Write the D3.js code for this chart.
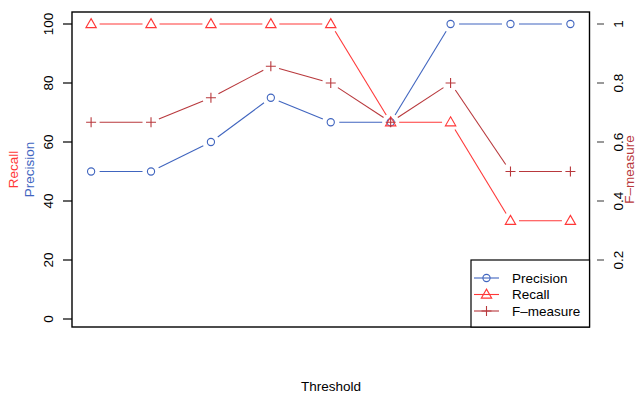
<!DOCTYPE html>
<html>
<head>
<meta charset="utf-8">
<script src="https://cdn.jsdelivr.net/npm/d3@7"></script>
<style>
  html, body { margin: 0; padding: 0; background: #fff; }
  svg { display: block; font-family: "Liberation Sans", Arial, Helvetica, sans-serif; }
</style>
</head>
<body>
<svg id="chart" width="637" height="393"></svg>
<script>
// Threshold steps (x positions 1..9)
const thresholds = [1, 2, 3, 4, 5, 6, 7, 8, 9];
// Precision and recall in percent
const precision = [50, 50, 60, 75, 66.7, 66.7, 100, 100, 100];
const recall = [100, 100, 100, 100, 100, 66.7, 66.7, 33.3, 33.3];
// F-measure on a 0..1 scale (right axis)
const fmeasure = [0.667, 0.667, 0.75, 0.857, 0.8, 0.667, 0.8, 0.5, 0.5];
const leftTicks = [0, 20, 40, 60, 80, 100];
const rightTicks = [0.2, 0.4, 0.6, 0.8, 1];

const colPrec = "#4065bf";
const colRec = "#ff3838";
const colF = "#b8383c";

const svg = d3.select("#chart");
const box = { left: 72, right: 589.5, top: 12, bottom: 327 };

const x = d3.scaleLinear().domain([1, 9]).range([91.1, 570.4]);
const yL = d3.scaleLinear().domain([0, 100]).range([319, 24]);
const yR = d3.scaleLinear().domain([0, 1]).range([319, 24]);

// plot frame
svg.append("rect")
  .attr("x", box.left).attr("y", box.top)
  .attr("width", box.right - box.left).attr("height", box.bottom - box.top)
  .attr("fill", "none").attr("stroke", "#000").attr("stroke-width", 1.4);

// left axis ticks and rotated labels
const gL = svg.append("g");
gL.selectAll("line").data(leftTicks).join("line")
  .attr("x1", 63).attr("x2", box.left)
  .attr("y1", d => yL(d)).attr("y2", d => yL(d))
  .attr("stroke", "#000").attr("stroke-width", 1.2);
gL.selectAll("text").data(leftTicks).join("text")
  .attr("transform", d => `translate(53,${yL(d)}) rotate(-90)`)
  .attr("text-anchor", "middle")
  .attr("font-size", 13.5)
  .attr("fill", "#000")
  .text(d => d);

// right axis ticks (no axis line) and rotated labels
const gR = svg.append("g");
gR.selectAll("line").data(rightTicks).join("line")
  .attr("x1", 597).attr("x2", 604)
  .attr("y1", d => yR(d)).attr("y2", d => yR(d))
  .attr("stroke", "#555").attr("stroke-width", 1.2);
gR.selectAll("text").data(rightTicks).join("text")
  .attr("transform", d => `translate(623,${yR(d)}) rotate(-90)`)
  .attr("text-anchor", "middle")
  .attr("font-size", 13.5)
  .attr("fill", "#000")
  .text(d => d3.format("~g")(d));

// axis titles
svg.append("text")
  .attr("transform", "translate(18,169.5) rotate(-90)")
  .attr("text-anchor", "middle").attr("font-size", 13.5).attr("fill", colRec)
  .text("Recall");
svg.append("text")
  .attr("transform", "translate(34,169.5) rotate(-90)")
  .attr("text-anchor", "middle").attr("font-size", 13.5).attr("fill", colPrec)
  .text("Precision");
svg.append("text")
  .attr("transform", "translate(634,169.5) rotate(-90)")
  .attr("text-anchor", "middle").attr("font-size", 13.5).attr("fill", colF)
  .text("F\u2013measure");
svg.append("text")
  .attr("x", 331).attr("y", 391)
  .attr("text-anchor", "middle").attr("font-size", 13.5).attr("fill", "#000")
  .text("Threshold");

// symbol painters
function drawSymbol(g, kind, cx, cy, color) {
  if (kind === "circle") {
    g.append("circle").attr("cx", cx).attr("cy", cy).attr("r", 3.6)
      .attr("fill", "none").attr("stroke", color).attr("stroke-width", 1.1);
  } else if (kind === "triangle") {
    const h = 9, w = 10.4;
    g.append("path")
      .attr("d", `M${cx},${cy - h * 0.6}L${cx + w / 2},${cy + h * 0.4}L${cx - w / 2},${cy + h * 0.4}Z`)
      .attr("fill", "none").attr("stroke", color).attr("stroke-width", 1.1);
  } else {
    const s = 5;
    g.append("path")
      .attr("d", `M${cx - s},${cy}H${cx + s}M${cx},${cy - s}V${cy + s}`)
      .attr("fill", "none").attr("stroke", color).attr("stroke-width", 1.1);
  }
}

// "both" style series: segments stop short of each point, then markers
function series(values, yScale, color, kind) {
  const g = svg.append("g");
  const pts = thresholds.map((t, i) => [x(t), yScale(values[i])]);
  const gap = 8.5;
  for (let i = 0; i < pts.length - 1; i++) {
    const [x1, y1] = pts[i], [x2, y2] = pts[i + 1];
    const len = Math.hypot(x2 - x1, y2 - y1);
    if (len <= 2 * gap) continue;
    const ux = (x2 - x1) / len, uy = (y2 - y1) / len;
    g.append("line")
      .attr("x1", x1 + ux * gap).attr("y1", y1 + uy * gap)
      .attr("x2", x2 - ux * gap).attr("y2", y2 - uy * gap)
      .attr("stroke", color).attr("stroke-width", 1.1);
  }
  pts.forEach(([px, py]) => drawSymbol(g, kind, px, py, color));
}

series(precision, yL, colPrec, "circle");
series(recall, yL, colRec, "triangle");
series(fmeasure, yR, colF, "plus");

// legend
const lg = svg.append("g");
lg.append("rect")
  .attr("x", 471).attr("y", 260).attr("width", 118.5).attr("height", 67)
  .attr("fill", "#fff").attr("stroke", "#000").attr("stroke-width", 1.2);
const legendItems = [
  { label: "Precision", color: colPrec, kind: "circle" },
  { label: "Recall", color: colRec, kind: "triangle" },
  { label: "F\u2013measure", color: colF, kind: "plus" }
];
legendItems.forEach((d, i) => {
  const cy = 278 + i * 16.5;
  lg.append("line").attr("x1", 474).attr("x2", 499).attr("y1", cy).attr("y2", cy)
    .attr("stroke", d.color).attr("stroke-width", 1.1);
  drawSymbol(lg, d.kind, 486.5, cy, d.color);
  lg.append("text").attr("x", 512).attr("y", cy + 4.8)
    .attr("font-size", 13.5).attr("fill", "#000").text(d.label);
});
</script>
</body>
</html>
